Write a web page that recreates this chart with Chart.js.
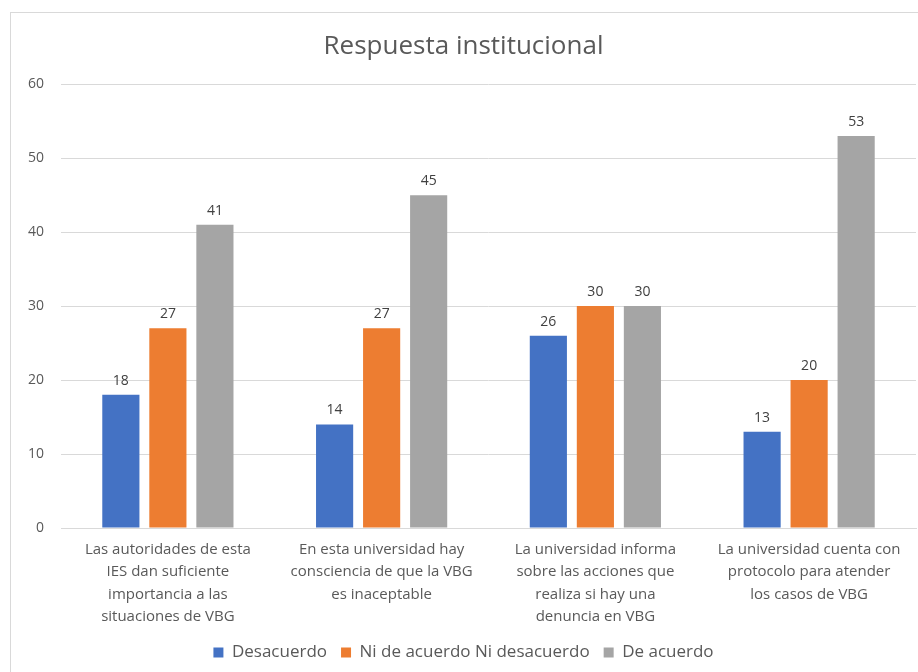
<!DOCTYPE html>
<html>
<head>
<meta charset="utf-8">
<script src="https://cdn.jsdelivr.net/npm/chart.js@4.4.0/dist/chart.umd.min.js"></script>
<style>
  html, body { margin: 0; padding: 0; background: #fff; }
  body { width: 918px; height: 672px; overflow: hidden; position: relative; }
  #marco {
    position: absolute; left: 10px; top: 12px; width: 920px; height: 680px;
    border: 1px solid #d9d9d9; box-sizing: border-box;
  }
  #marco canvas { position: absolute; left: 0; top: 0; }
</style>
</head>
<body>
<div id="marco"><canvas id="respuesta" width="918" height="658"></canvas></div>
<script>
// datos
const categorias = [
    ['Las autoridades de esta', 'IES dan suficiente', 'importancia a las', 'situaciones de VBG'],
    ['En esta universidad hay', 'consciencia de que la VBG', 'es inaceptable'],
    ['La universidad informa', 'sobre las acciones que', 'realiza si hay una', 'denuncia en VBG'],
    ['La universidad cuenta con', 'protocolo para atender', 'los casos de VBG']
];
const desacuerdo = [18, 14, 26, 13];
const niNi = [27, 27, 30, 20];
const deAcuerdo = [41, 45, 30, 53];
const ticksY = [0, 10, 20, 30, 40, 50, 60];

const fuente = "'Open Sans', 'Liberation Sans', sans-serif";

// etiquetas encima de las barras
const etiquetas = {
    id: 'etiquetas',
    afterDatasetsDraw(chart) {
        const ctx = chart.ctx;
        ctx.save();
        ctx.font = '14px ' + fuente;
        ctx.fillStyle = '#404040';
        ctx.textAlign = 'center';
        ctx.textBaseline = 'bottom';
        chart.data.datasets.forEach((ds, i) => {
            chart.getDatasetMeta(i).data.forEach((bar, j) => {
                ctx.fillText(ds.data[j], bar.x, bar.y - 7);
            });
        });
        ctx.restore();
    }
};

new Chart(document.getElementById('respuesta'), {
    type: 'bar',
    data: {
        labels: categorias,
        datasets: [
            { label: 'Desacuerdo', data: desacuerdo, backgroundColor: '#4472C4' },
            { label: 'Ni de acuerdo Ni desacuerdo', data: niNi, backgroundColor: '#ED7D31' },
            { label: 'De acuerdo', data: deAcuerdo, backgroundColor: '#A5A5A5' }
        ]
    },
    options: {
        responsive: false,
        animation: false,
        datasets: { bar: { categoryPercentage: 0.66, barPercentage: 0.79 } },
        layout: { padding: { left: 0, right: 13, top: 4, bottom: 0 } },
        plugins: {
            title: {
                display: true,
                text: 'Respuesta institucional',
                color: '#595959',
                font: { family: fuente, size: 26, weight: 'normal' },
                padding: { top: 14, bottom: 22 }
            },
            legend: {
                position: 'bottom',
                labels: {
                    color: '#595959',
                    font: { family: fuente, size: 17 },
                    boxWidth: 10,
                    boxHeight: 10,
                    padding: 14
                }
            },
            tooltip: { enabled: false }
        },
        scales: {
            x: {
                grid: { display: false },
                border: { color: '#d9d9d9' },
                ticks: {
                    color: '#595959',
                    font: { family: fuente, size: 15, lineHeight: 1.5 },
                    maxRotation: 0,
                    autoSkip: false,
                    padding: 2
                }
            },
            y: {
                min: 0,
                max: 60,
                afterBuildTicks(axis) { axis.ticks = ticksY.map(v => ({ value: v })); },
                grid: { color: '#d9d9d9', drawTicks: false },
                border: { display: false },
                ticks: {
                    color: '#595959',
                    font: { family: fuente, size: 14 },
                    padding: 17
                }
            }
        }
    },
    plugins: [etiquetas]
});
</script>
</body>
</html>
